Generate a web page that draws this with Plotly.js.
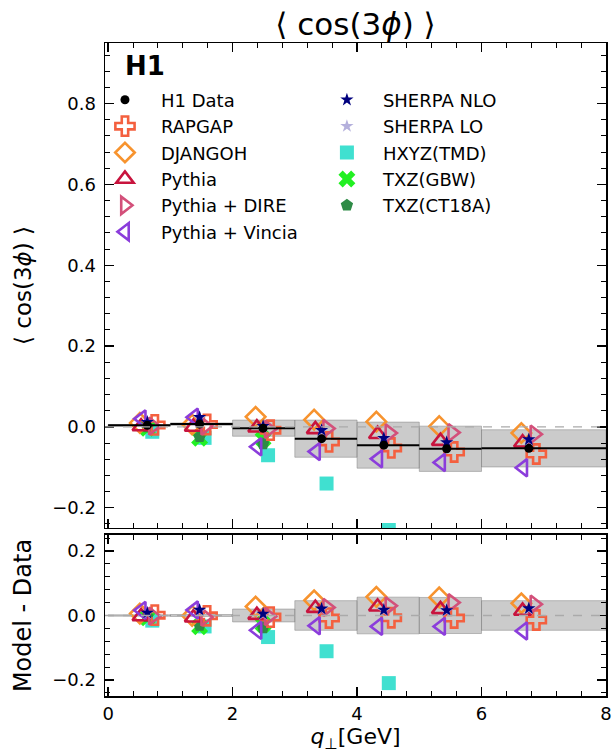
<!DOCTYPE html>
<html>
<head>
<meta charset="utf-8">
<script src="https://cdn.plot.ly/plotly-3.0.1.min.js"></script>
<style>html,body{margin:0;padding:0;background:#ffffff;}</style>
</head>
<body>
<div id="chart" style="width:613px;height:753px;"></div>
<script>
// ---- data ----
const binLow  = [0, 1, 2, 3, 4, 5, 6];
const binHigh = [1, 2, 3, 4, 5, 6, 8];
const qPerp   = [0.63, 1.47, 2.49, 3.43, 4.43, 5.44, 6.76];

const h1Data  = [0.004, 0.007, -0.003, -0.029, -0.045, -0.054, -0.053];
const h1Stat  = [0.003, 0.003, 0.004, 0.004, 0.005, 0.005, 0.005];
const h1Unc   = [0.002, 0.003, 0.020, 0.046, 0.057, 0.056, 0.046];

const rapgap   = [0.005, 0.006, -0.008, -0.037, -0.052, -0.062, -0.067];
const djangoh  = [0.010, 0.006, 0.025, 0.018, 0.013, 0.002, -0.015];
const pythia   = [0.001, 0.000, -0.002, -0.006, -0.018, -0.035, -0.039];
const pythiaDire   = [0.002, 0.002, -0.006, -0.004, -0.015, -0.014, -0.018];
const pythiaVincia = [0.020, 0.024, -0.049, -0.061, -0.079, -0.088, -0.101];
const sherpaNLO = [0.012, 0.024, 0.002, -0.008, -0.028, -0.038, -0.031];
const sherpaLO  = [0.011, 0.022, 0.000, -0.010, -0.030, -0.040, -0.033];
const hxyzTMD   = [-0.012, -0.027, -0.070, -0.140, -0.255, null, null];
const txzGBW    = [-0.003, -0.028, -0.030, null, null, null, null];
const txzCT18A  = [0.000, -0.024, -0.042, null, null, null, null];

const yTickVals = [-0.2, 0.0, 0.2, 0.4, 0.6, 0.8];
const xTickVals = [0, 2, 4, 6, 8];

// ---- styles ----
const FONT = 'DejaVu Sans';
const models = [
  {name:'HXYZ(TMD)',      y:hxyzTMD,      symbol:'square',              color:'#40e0d0', size:14, lw:0,   dx:0.08,  legend:'legend2', rank:9},
  {name:'TXZ(GBW)',       y:txzGBW,       symbol:'x',                   color:'#22f022', size:15, lw:0,   dx:0.0,   legend:'legend2', rank:10},
  {name:'TXZ(CT18A)',     y:txzCT18A,     symbol:'pentagon',            color:'#2e8b46', size:13, lw:0,   dx:0.0,   legend:'legend2', rank:11},
  {name:'RAPGAP',         y:rapgap,       symbol:'cross-open',          color:'#f4603f', size:16, lw:2.6, dx:0.12,  legend:'legend',  rank:2},
  {name:'DJANGOH',        y:djangoh,      symbol:'diamond-open',        color:'#f7932e', size:15, lw:2.6, dx:-0.12, legend:'legend',  rank:3},
  {name:'Pythia',         y:pythia,       symbol:'triangle-up-open',    color:'#c8143e', size:15, lw:2.6, dx:-0.10, legend:'legend',  rank:4},
  {name:'Pythia + DIRE',  y:pythiaDire,   symbol:'triangle-right-open', color:'#d3507a', size:15, lw:2.6, dx:0.09,  legend:'legend',  rank:5},
  {name:'Pythia + Vincia',y:pythiaVincia, symbol:'triangle-left-open',  color:'#8b3ddb', size:15, lw:2.6, dx:-0.09, legend:'legend',  rank:6},
  {name:'SHERPA LO',      y:sherpaLO,     symbol:'star',                color:'#b4b0dc', size:10, lw:0,   dx:0.0,   legend:'legend2', rank:8},
  {name:'SHERPA NLO',     y:sherpaNLO,    symbol:'star',                color:'#00007e', size:10, lw:0,   dx:0.0,   legend:'legend2', rank:7}
];

const centers = binLow.map((lo, i) => (lo + binHigh[i]) / 2);
const widths  = binLow.map((lo, i) => binHigh[i] - lo);

const traces = [];
// uncertainty bands
traces.push({
  type:'bar', x:centers, width:widths,
  base:h1Data.map((v, i) => v - h1Unc[i]), y:h1Unc.map(u => 2 * u),
  xaxis:'x', yaxis:'y',
  marker:{color:'rgba(140,140,140,0.45)', line:{color:'rgba(120,120,120,0.45)', width:1}},
  showlegend:false, hoverinfo:'skip'
});
traces.push({
  type:'bar', x:centers, width:widths,
  base:h1Unc.map(u => -u), y:h1Unc.map(u => 2 * u),
  xaxis:'x2', yaxis:'y2',
  marker:{color:'rgba(140,140,140,0.45)', line:{color:'rgba(120,120,120,0.45)', width:1}},
  showlegend:false, hoverinfo:'skip'
});

models.forEach(m => {
  const xs = qPerp.map(q => q + m.dx);
  const mk = {symbol:m.symbol, color:m.color, size:m.size, line:{color:m.color, width:m.lw}};
  traces.push({
    type:'scatter', mode:'markers', name:m.name, x:xs, y:m.y,
    xaxis:'x', yaxis:'y', marker:mk, legend:m.legend, legendrank:m.rank,
    legendgroup:m.name
  });
  traces.push({
    type:'scatter', mode:'markers', name:m.name, x:xs,
    y:m.y.map((v, i) => v === null ? null : v - h1Data[i]),
    xaxis:'x2', yaxis:'y2', marker:mk, showlegend:false, legendgroup:m.name
  });
});

// H1 data
traces.push({
  type:'scatter', mode:'markers', name:'H1 Data', x:qPerp, y:h1Data,
  xaxis:'x', yaxis:'y', legend:'legend', legendrank:1, legendgroup:'H1 Data',
  marker:{symbol:'circle', color:'black', size:9},
  error_x:{type:'data', symmetric:false,
           array:qPerp.map((q, i) => binHigh[i] - q),
           arrayminus:qPerp.map((q, i) => q - binLow[i]),
           color:'black', thickness:2, width:0},
  error_y:{type:'data', array:h1Stat, color:'black', thickness:2, width:0}
});

const axBase = {
  showline:true, linecolor:'black', linewidth:1.5, mirror:'allticks',
  ticks:'inside', ticklen:9, tickwidth:1.3, tickcolor:'black',
  zeroline:false, showgrid:false, ticklabelstandoff:4,
  tickfont:{family:FONT, size:18, color:'black'}
};
const minorY = {ticks:'inside', ticklen:5, tickwidth:1, tickcolor:'black', dtick:0.04, showgrid:false};
const minorX = {ticks:'inside', ticklen:5, tickwidth:1, tickcolor:'black', dtick:0.4, showgrid:false};

const legendBase = {
  font:{family:FONT, size:18, color:'black'}, bgcolor:'rgba(0,0,0,0)',
  xanchor:'left', yanchor:'top', tracegroupgap:0, itemwidth:62,
  orientation:'v', itemclick:false, itemdoubleclick:false
};

const layout = {
  width:613, height:753,
  margin:{l:105, r:7, t:43, b:57, pad:0},
  paper_bgcolor:'white', plot_bgcolor:'white',
  font:{family:FONT, color:'black'},
  barmode:'overlay', bargap:0,
  title:{text:'⟨ cos(3<i>ϕ</i>) ⟩', font:{family:FONT, size:31, color:'black'},
         x:0.5, xref:'paper', xanchor:'center', y:1 - 24 / 753, yref:'container', yanchor:'middle'},
  xaxis:Object.assign({}, axBase, {
    domain:[0, 1], anchor:'y', range:[-0.05, 8], tickvals:xTickVals, showticklabels:false,
    minor:minorX
  }),
  xaxis2:Object.assign({}, axBase, {
    domain:[0, 1], anchor:'y2', range:[-0.05, 8], tickvals:xTickVals, matches:'x',
    minor:minorX, ticklabelstandoff:1,
    title:{text:'<i>q</i><sub>⊥</sub>[GeV]', font:{family:FONT, size:22, color:'black'}, standoff:11}
  }),
  yaxis:Object.assign({}, axBase, {
    domain:[0.2573, 1], anchor:'x', range:[-0.25, 0.95], tickvals:yTickVals, tickformat:'.1f',
    minor:minorY,
    title:{text:'⟨ cos(3<i>ϕ</i>) ⟩', font:{family:FONT, size:23, color:'black'}, standoff:14}
  }),
  yaxis2:Object.assign({}, axBase, {
    domain:[0, 0.2466], anchor:'x2', range:[-0.25, 0.25], tickvals:[-0.2, 0.0, 0.2], tickformat:'.1f',
    minor:minorY,
    title:{text:'Model - Data', font:{family:FONT, size:24, color:'black'}, standoff:14}
  }),
  legend:Object.assign({}, legendBase, {x:-0.032, y:0.941}),
  legend2:Object.assign({}, legendBase, {x:0.411, y:0.941}),
  shapes:[
    {type:'line', xref:'x domain', x0:0, x1:1, yref:'y', y0:0, y1:0,
     line:{color:'#aaaaaa', width:1.3, dash:'dash'}, layer:'above'},
    {type:'line', xref:'x2 domain', x0:0, x1:1, yref:'y2', y0:0, y1:0,
     line:{color:'#aaaaaa', width:1.3, dash:'dash'}, layer:'above'}
  ],
  annotations:[
    {text:'<b>H1</b>', xref:'paper', yref:'paper', x:0.08, y:(696 - 66) / 653,
     xanchor:'center', yanchor:'middle', showarrow:false,
     font:{family:FONT, size:26, color:'black'}}
  ]
};

Plotly.newPlot('chart', traces, layout, {staticPlot:true, displayModeBar:false});
</script>
</body>
</html>
